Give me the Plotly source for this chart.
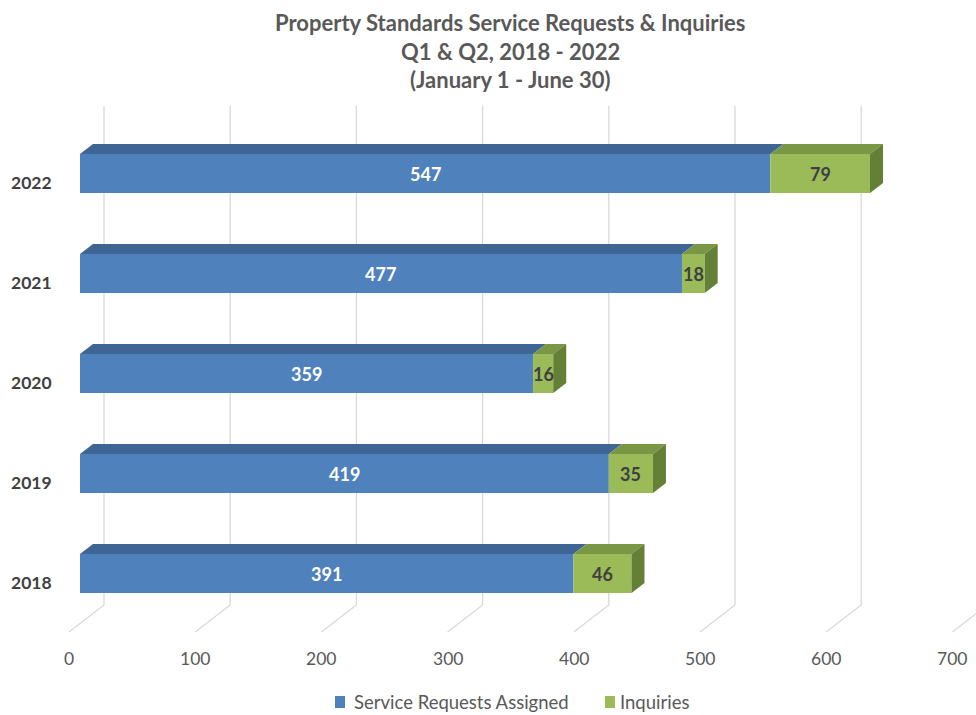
import plotly.graph_objects as go

# ---- data ----
years = ["2018", "2019", "2020", "2021", "2022"]
service_requests = [391, 419, 359, 477, 547]
inquiries = [46, 35, 16, 18, 79]
tick_values = [0, 100, 200, 300, 400, 500, 600, 700]
series_names = ["Service Requests Assigned", "Inquiries"]

title_lines = [
    "Property Standards Service Requests & Inquiries",
    "Q1 & Q2, 2018 - 2022",
    "(January 1 - June 30)",
]

# ---- styling ----
W, H = 976, 715
PX_PER_UNIT = 1.262          # horizontal scale of the value axis
ZERO_PX = 80                 # pixel of value 0 on the bars' front face
ROW0_PX = 573.5              # pixel centre of the first category row
ROW_PX = 100                 # pixel distance between rows

BLUE, BLUE_TOP = "#4F81BD", "#3E6593"
GREEN, GREEN_TOP, GREEN_SIDE = "#9BBB59", "#7A9746", "#647F36"
GRID = "#D9D9D9"
TXT = "#595959"
DARK = "#404040"
FONT = "Lato"

BAR_W = 0.39                 # front-face height in row units
DEPTH_X = 13 / PX_PER_UNIT   # oblique depth of the bars
DEPTH_Y = 10 / ROW_PX
WALL_X = 24 / PX_PER_UNIT    # back wall offset from the bars' front
FLOOR_X = -11 / PX_PER_UNIT  # floor front edge offset
WALL_TOP = (ROW0_PX - 106) / ROW_PX
WALL_BOTTOM = (ROW0_PX - 605) / ROW_PX
FLOOR_FRONT = (ROW0_PX - 632) / ROW_PX
TICK_Y = (ROW0_PX - 658) / ROW_PX
CAT_DY = -0.09
LEGEND_Y = 702               # pixel centre line of the legend row

x_range = [(0 - ZERO_PX) / PX_PER_UNIT, (W - ZERO_PX) / PX_PER_UNIT]
y_range = [(ROW0_PX - H) / ROW_PX, ROW0_PX / ROW_PX]

rows = list(range(len(years)))

fig = go.Figure()
fig.add_trace(go.Bar(
    y=rows, x=service_requests, orientation="h", width=BAR_W,
    name=series_names[0], marker=dict(color=BLUE, line=dict(width=0)),
    hoverinfo="x", showlegend=False,
))
fig.add_trace(go.Bar(
    y=rows, x=inquiries, base=service_requests, orientation="h", width=BAR_W,
    name=series_names[1], marker=dict(color=GREEN, line=dict(width=0)),
    hoverinfo="x", showlegend=False,
))

shapes = []
# back wall gridlines folding onto the floor
for v in tick_values:
    shapes.append(dict(
        type="path", xref="x", yref="y", layer="below",
        path=f"M {v + WALL_X},{WALL_TOP} L {v + WALL_X},{WALL_BOTTOM} L {v + FLOOR_X},{FLOOR_FRONT}",
        line=dict(color=GRID, width=1.3),
    ))


def top_face(a, b, yt, color):
    return dict(
        type="path", xref="x", yref="y", layer="above", line=dict(width=0),
        fillcolor=color,
        path=(f"M {a},{yt} L {a + DEPTH_X},{yt + DEPTH_Y} "
              f"L {b + DEPTH_X},{yt + DEPTH_Y} L {b},{yt} Z"),
    )


def side_face(b, yt, color):
    yb = yt - BAR_W
    return dict(
        type="path", xref="x", yref="y", layer="above", line=dict(width=0),
        fillcolor=color,
        path=(f"M {b},{yb} L {b},{yt} L {b + DEPTH_X},{yt + DEPTH_Y} "
              f"L {b + DEPTH_X},{yb + DEPTH_Y} Z"),
    )


annotations = []
for i, (s, q) in enumerate(zip(service_requests, inquiries)):
    yt = i + BAR_W / 2
    total = s + q
    shapes.append(top_face(0, s, yt, BLUE_TOP))
    shapes.append(top_face(s, total, yt, GREEN_TOP))
    shapes.append(side_face(total, yt, GREEN_SIDE))
    annotations.append(dict(
        x=s / 2, y=i, xref="x", yref="y", text=f"<b>{s}</b>", showarrow=False,
        font=dict(family=FONT, size=18, color="white"),
    ))
    annotations.append(dict(
        x=s + q / 2, y=i, xref="x", yref="y", text=f"<b>{q}</b>", showarrow=False,
        font=dict(family=FONT, size=18, color=DARK),
    ))
    annotations.append(dict(
        x=9 / W, y=i + CAT_DY, xref="paper", yref="y", text=f"<b>{years[i]}</b>",
        showarrow=False, xanchor="left",
        font=dict(family=FONT, size=17.5, color=DARK),
    ))

for v in tick_values:
    annotations.append(dict(
        x=v + FLOOR_X, y=TICK_Y, xref="x", yref="y", text=str(v), showarrow=False,
        font=dict(family=FONT, size=17.5, color=TXT),
    ))

for k, line in enumerate(title_lines):
    annotations.append(dict(
        x=510 / W, y=1 - (22 + 29 * k) / H, xref="paper", yref="paper",
        text=f"<b>{line}</b>", showarrow=False, yanchor="middle",
        font=dict(family=FONT, size=22, color=TXT),
    ))

# legend keys along the bottom edge
legend_keys = [(335, 352, BLUE), (605, 618, GREEN)]
for (sq_x, txt_x, color), name in zip(legend_keys, series_names):
    shapes.append(dict(
        type="rect", xref="paper", yref="paper", layer="above",
        x0=sq_x / W, x1=(sq_x + 10) / W,
        y0=1 - (LEGEND_Y + 6) / H, y1=1 - (LEGEND_Y - 6) / H,
        fillcolor=color, line=dict(width=0),
    ))
    annotations.append(dict(
        x=txt_x / W, y=1 - LEGEND_Y / H, xref="paper", yref="paper", text=name,
        showarrow=False, xanchor="left", yanchor="middle",
        font=dict(family=FONT, size=18.5, color=TXT),
    ))

fig.update_layout(
    width=W, height=H, autosize=False,
    margin=dict(l=0, r=0, t=0, b=0, pad=0, autoexpand=False),
    paper_bgcolor="white", plot_bgcolor="white",
    barmode="overlay",
    showlegend=False,
    xaxis=dict(range=x_range, visible=False, fixedrange=True),
    yaxis=dict(range=y_range, visible=False, fixedrange=True),
    shapes=shapes,
    annotations=annotations,
)

fig.write_html("out.html")
